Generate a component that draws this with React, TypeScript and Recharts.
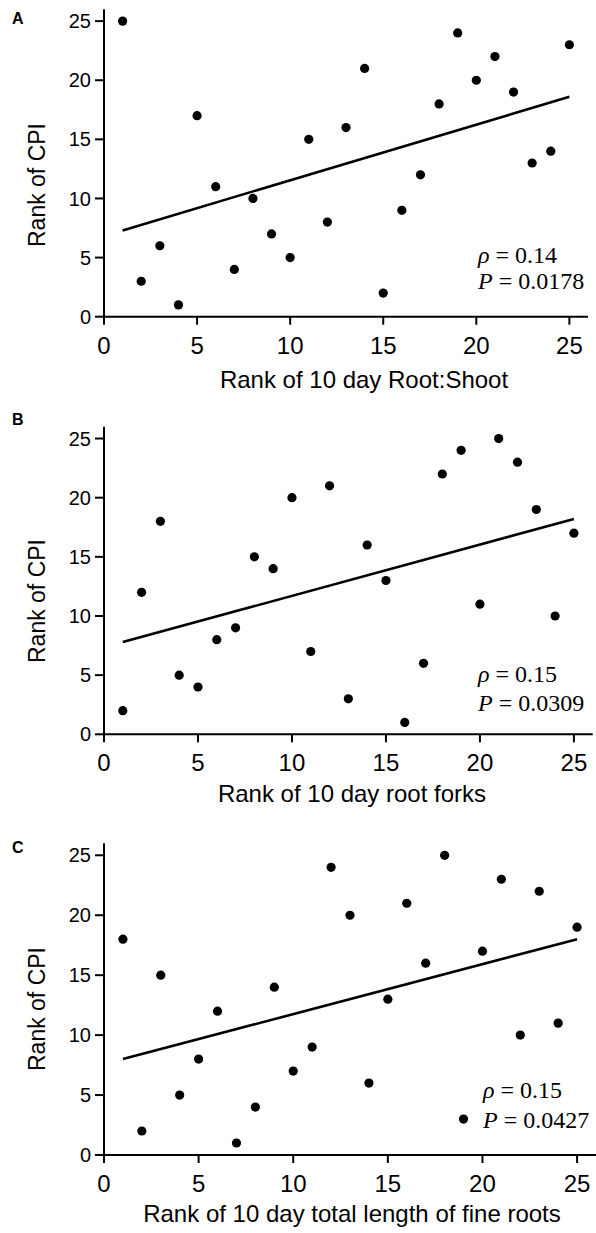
import React from 'react';
import { ComposedChart, Scatter, XAxis, YAxis, ReferenceLine } from 'recharts';

// ---- data ----
const xRanks = [1, 2, 3, 4, 5, 6, 7, 8, 9, 10, 11, 12, 13, 14, 15, 16, 17, 18, 19, 20, 21, 22, 23, 24, 25];
const cpiA = [25, 3, 6, 1, 17, 11, 4, 10, 7, 5, 15, 8, 16, 21, 2, 9, 12, 18, 24, 20, 22, 19, 13, 14, 23];
const cpiB = [2, 12, 18, 5, 4, 8, 9, 15, 14, 20, 7, 21, 3, 16, 13, 1, 6, 22, 24, 11, 25, 23, 19, 10, 17];
const cpiC = [18, 2, 15, 5, 8, 12, 1, 4, 14, 7, 9, 24, 20, 6, 13, 21, 16, 25, 3, 17, 23, 10, 22, 11, 19];
const fitA = [{ x: 1, y: 7.3 }, { x: 25, y: 18.6 }];
const fitB = [{ x: 1, y: 7.8 }, { x: 25, y: 18.2 }];
const fitC = [{ x: 1, y: 8.0 }, { x: 25, y: 18.0 }];
const axisTicks = [0, 5, 10, 15, 20, 25];
const xTitles = ['Rank of 10 day Root:Shoot', 'Rank of 10 day root forks', 'Rank of 10 day total length of fine roots'];
const yTitle = 'Rank of CPI';
const panelLetters = ['A', 'B', 'C'];
const rhoValues = ['0.14', '0.15', '0.15'];
const pValues = ['0.0178', '0.0309', '0.0427'];

const SANS = 'Liberation Sans, Arial, sans-serif';
const SERIF = 'Liberation Serif, Times New Roman, serif';

const toData = (ys: number[]) => xRanks.map((x, i) => ({ x, y: ys[i] }));

const Dot = (p: any) => <circle cx={p.cx} cy={p.cy} r={4.6} fill="#000" />;

type PanelProps = {
  ys: number[];
  fit: { x: number; y: number }[];
  top: number;
  height: number;
  marginTop: number;
  marginRight: number;
  xAxisHeight: number;
};

const Panel = ({ ys, fit, top, height, marginTop, marginRight, xAxisHeight }: PanelProps) => (
  <div style={{ position: 'absolute', left: 0, top, width: 596, height }}>
    <ComposedChart
      width={596}
      height={height}
      margin={{ top: marginTop, right: marginRight, bottom: 0, left: 0 }}
      data={toData(ys)}
    >
      <XAxis
        type="number"
        dataKey="x"
        domain={[0, 26]}
        ticks={axisTicks}
        allowDataOverflow
        height={xAxisHeight}
        tickSize={8}
        tickMargin={12}
        axisLine={{ stroke: '#000', strokeWidth: 2 }}
        tickLine={{ stroke: '#000', strokeWidth: 2 }}
        tick={{ fill: '#000', fontSize: 24, fontFamily: SANS }}
      />
      <YAxis
        type="number"
        dataKey="y"
        domain={[0, 26]}
        ticks={axisTicks}
        allowDataOverflow
        width={104}
        tickSize={9}
        tickMargin={4}
        axisLine={{ stroke: '#000', strokeWidth: 2 }}
        tickLine={{ stroke: '#000', strokeWidth: 2 }}
        tick={{ fill: '#000', fontSize: 20, fontFamily: SANS }}
      />
      <ReferenceLine
        segment={fit}
        stroke="#000"
        strokeWidth={2.6}
        ifOverflow="visible"
      />
      <Scatter dataKey="y" fill="#000" shape={Dot} isAnimationActive={false} />
    </ComposedChart>
  </div>
);

const yTitleCenters = [185, 601, 1009];
const xTitleCenters = [364, 352, 352];
const xTitleBaselines = [388, 802, 1222];
const letterBaselines = [24, 425, 853];
const annotX = [478, 478, 483];
const rhoBaselines = [263, 682, 1098];
const pBaselines = [289, 711, 1128];

export default function App() {
  return (
    <div style={{ position: 'absolute', left: 0, top: 0, width: 596, height: 1233, background: '#fff' }}>
      <Panel ys={cpiA} fit={fitA} top={0} height={360} marginTop={9.3} marginRight={8} xAxisHeight={43.3} />
      <Panel ys={cpiB} fit={fitB} top={400} height={380} marginTop={26.7} marginRight={3.3} xAxisHeight={45.7} />
      <Panel ys={cpiC} fit={fitC} top={820} height={380} marginTop={23.3} marginRight={0} xAxisHeight={45} />
      <svg
        width={596}
        height={1233}
        style={{ position: 'absolute', left: 0, top: 0, pointerEvents: 'none' }}
      >
        {panelLetters.map((l, i) => (
          <text key={'l' + i} x={12} y={letterBaselines[i]} fontFamily={SANS} fontWeight="bold" fontSize={16} fill="#000">
            {l}
          </text>
        ))}
        {yTitleCenters.map((c, i) => (
          <text
            key={'y' + i}
            x={45}
            y={c}
            transform={`rotate(-90, 45, ${c})`}
            textAnchor="middle"
            fontFamily={SANS}
            fontSize={23}
            fill="#000"
          >
            {yTitle}
          </text>
        ))}
        {xTitles.map((t, i) => (
          <text key={'x' + i} x={xTitleCenters[i]} y={xTitleBaselines[i]} textAnchor="middle" fontFamily={SANS} fontSize={24} fill="#000">
            {t}
          </text>
        ))}
        {rhoValues.map((r, i) => (
          <text key={'r' + i} x={annotX[i]} y={rhoBaselines[i]} fontFamily={SERIF} fontSize={24} fill="#000">
            <tspan fontStyle="italic">ρ</tspan>
            <tspan>{' = ' + r}</tspan>
          </text>
        ))}
        {pValues.map((p, i) => (
          <text key={'p' + i} x={annotX[i]} y={pBaselines[i]} fontFamily={SERIF} fontSize={24} fill="#000">
            <tspan fontStyle="italic">P</tspan>
            <tspan>{' = ' + p}</tspan>
          </text>
        ))}
      </svg>
    </div>
  );
}
